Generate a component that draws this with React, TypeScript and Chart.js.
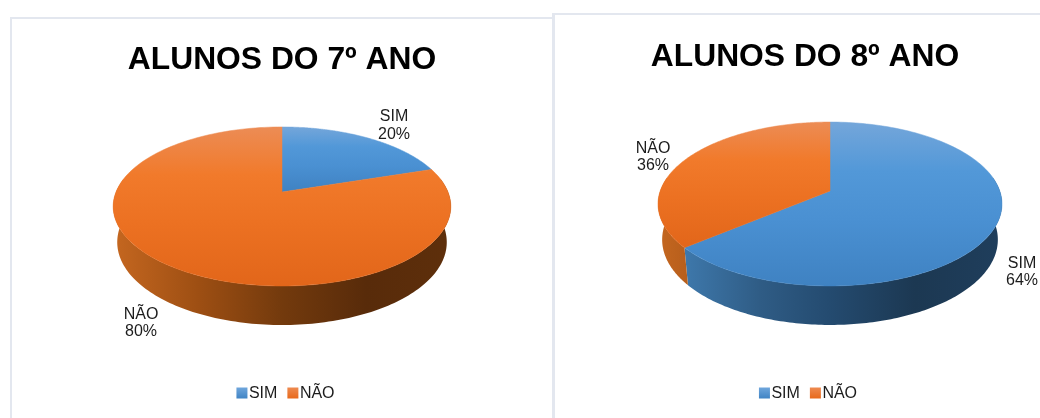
import React, { useEffect, useRef } from "react";
import { Chart, registerables } from "chart.js";

Chart.register(...registerables);

const categories = ["SIM", "NÃO"];
const values7 = [20, 80];
const values8 = [64, 36];
const title7 = "ALUNOS DO 7º ANO";
const title8 = "ALUNOS DO 8º ANO";

const FONT = '"Liberation Sans", Arial, sans-serif';
const TEXT = "#1c1c1c";
const legendColors = ["#5B9BD5", "#ED7D31"];

const faceStops: [number, string][][] = [
  [[0, "#74a6da"], [0.3, "#5298d8"], [0.6, "#4a90d2"], [1, "#3f82c2"]],
  [[0, "#ec8c55"], [0.3, "#f17a2b"], [0.6, "#ec7122"], [1, "#e2661a"]],
];
const sideStops: [number, string][][] = [
  [[0, "#4683ba"], [0.08, "#3e78ab"], [0.3, "#2f5c85"], [0.5, "#244b70"], [0.75, "#1c3852"], [1, "#1f3e5c"]],
  [[0, "#c56720"], [0.25, "#9e4f13"], [0.5, "#733a0d"], [0.75, "#582b0a"], [1, "#5e2f0b"]],
];
const legendStops: [number, string][][] = [
  [[0, "#6fa6dc"], [1, "#4084c4"]],
  [[0, "#ee8a50"], [1, "#e8691b"]],
];

type Geo = {
  cx: number; cy: number; A: number; B: number; k: number; left: number; right: number;
  dataLabels: [number, number][]; legendCx: number; legendY: number; titleTop: number;
};

const leftGeo: Geo = {
  cx: 270, cy: 173, A: 166, B: 76.9, k: 0.182, left: 101, right: 439,
  dataLabels: [[382, 106.5], [129, 304]], legendCx: 273.5, legendY: 374, titleTop: 22,
};
const rightGeo: Geo = {
  cx: 275, cy: 176, A: 169.8, B: 79.9, k: 0.1585, left: 102, right: 446,
  dataLabels: [[467, 257], [98, 142]], legendCx: 253, legendY: 378, titleTop: 23,
};

const project = (g: Geo, t: number) => {
  const u = Math.sin(t), v = Math.cos(t), d = 1 + g.k * v;
  return { x: g.cx + (g.A * u) / d, y: g.cy - (g.B * v) / d, v };
};
const projectLower = (g: Geo, t: number) => {
  const p = project(g, t);
  return { x: g.cx + (p.x - g.cx) * 0.976, y: p.y + 35 - 4 * p.v };
};

const pie3d = (geo: Geo) => ({
  id: "pie3d",
  beforeDatasetDraw(chart: any) {
    const ctx = chart.ctx as CanvasRenderingContext2D;
    const arcs = chart.getDatasetMeta(0).data as any[];
    const lo = (80 * Math.PI) / 180, hi = (280 * Math.PI) / 180;
    const steps = 160;
    ctx.save();
    arcs.forEach((arc, i) => {
      const a = Math.max(arc.startAngle + Math.PI / 2, lo);
      const b = Math.min(arc.endAngle + Math.PI / 2, hi);
      if (b <= a) return;
      const g = ctx.createLinearGradient(geo.left, 0, geo.right, 0);
      sideStops[i].forEach(([o, c]) => g.addColorStop(o, c));
      ctx.beginPath();
      for (let s = 0; s <= steps; s++) {
        const p = project(geo, a + ((b - a) * s) / steps);
        ctx.lineTo(p.x, p.y);
      }
      for (let s = steps; s >= 0; s--) {
        const p = projectLower(geo, a + ((b - a) * s) / steps);
        ctx.lineTo(p.x, p.y);
      }
      ctx.closePath();
      ctx.fillStyle = g;
      ctx.fill();
    });
    arcs.forEach((arc, i) => {
      const a = arc.startAngle + Math.PI / 2, b = arc.endAngle + Math.PI / 2;
      const pts = [{ x: geo.cx, y: geo.cy }];
      for (let s = 0; s <= steps; s++) pts.push(project(geo, a + ((b - a) * s) / steps));
      const ys = pts.map((p) => p.y);
      const g = ctx.createLinearGradient(0, Math.min(...ys), 0, Math.max(...ys));
      faceStops[i].forEach(([o, c]) => g.addColorStop(o, c));
      ctx.beginPath();
      pts.forEach((p) => ctx.lineTo(p.x, p.y));
      ctx.closePath();
      ctx.fillStyle = g;
      ctx.strokeStyle = g;
      ctx.lineWidth = 0.5;
      ctx.fill();
      ctx.stroke();
    });
    ctx.restore();
    return false;
  },
  afterDraw(chart: any) {
    const ctx = chart.ctx as CanvasRenderingContext2D;
    const labels = chart.data.labels as string[];
    const vals = chart.data.datasets[0].data as number[];
    const total = vals.reduce((s, v) => s + v, 0);
    ctx.save();
    ctx.font = `16px ${FONT}`;
    ctx.fillStyle = TEXT;
    ctx.textBaseline = "middle";
    ctx.textAlign = "center";
    labels.forEach((l, i) => {
      const [x, y] = geo.dataLabels[i];
      ctx.fillText(l, x, y - 8.75);
      ctx.fillText(`${Math.round((vals[i] / total) * 100)}%`, x, y + 8.75);
    });
    // legend
    const box = 11, gap = 1.5, sep = 10;
    const widths = labels.map((l) => ctx.measureText(l).width);
    const totalW = widths.reduce((s, w) => s + w + box + gap, 0) + sep * (labels.length - 1);
    let x = geo.legendCx - totalW / 2;
    ctx.textAlign = "left";
    labels.forEach((l, i) => {
      const g = ctx.createLinearGradient(0, geo.legendY - box / 2, 0, geo.legendY + box / 2);
      legendStops[i].forEach(([o, c]) => g.addColorStop(o, c));
      ctx.fillStyle = g;
      ctx.fillRect(x, geo.legendY - box / 2, box, box);
      ctx.fillStyle = TEXT;
      ctx.fillText(l, x + box + gap, geo.legendY + 1);
      x += box + gap + widths[i] + sep;
    });
    ctx.restore();
  },
});

function PieCanvas({ values, title, geo, style }: { values: number[]; title: string; geo: Geo; style: React.CSSProperties }) {
  const ref = useRef<HTMLCanvasElement>(null);
  useEffect(() => {
    const chart = new Chart(ref.current!, {
      type: "pie",
      data: {
        labels: categories,
        datasets: [{ data: values, backgroundColor: legendColors, borderWidth: 0 }],
      },
      options: {
        responsive: false,
        animation: false,
        plugins: {
          legend: { display: false },
          tooltip: { enabled: false },
          title: {
            display: true,
            text: title,
            color: "#000000",
            font: { family: FONT, size: 31.8, weight: "bold" },
            padding: { top: geo.titleTop, bottom: 10 },
          },
        },
      },
      plugins: [pie3d(geo)],
    } as any);
    return () => chart.destroy();
  }, []);
  return <canvas ref={ref} width={style.width as number} height={style.height as number} style={{ position: "absolute", display: "block", ...style }} />;
}

const BORDER = "#e3e7ef";

export default function App() {
  return (
    <div style={{ position: "fixed", inset: 0, width: 1040, height: 418, overflow: "hidden", background: "#ffffff" }}>
      <div style={{ position: "absolute", left: 10, top: 17, width: 600, height: 500, border: `2px solid ${BORDER}`, boxSizing: "border-box" }} />
      <PieCanvas values={values7} title={title7} geo={leftGeo} style={{ left: 12, top: 19, width: 540, height: 399 }} />
      <div style={{ position: "absolute", left: 552, top: 13, width: 600, height: 500, background: "#ffffff", borderLeft: `3px solid ${BORDER}`, borderTop: `2px solid ${BORDER}`, boxSizing: "border-box" }} />
      <PieCanvas values={values8} title={title8} geo={rightGeo} style={{ left: 555, top: 15, width: 500, height: 403 }} />
    </div>
  );
}
